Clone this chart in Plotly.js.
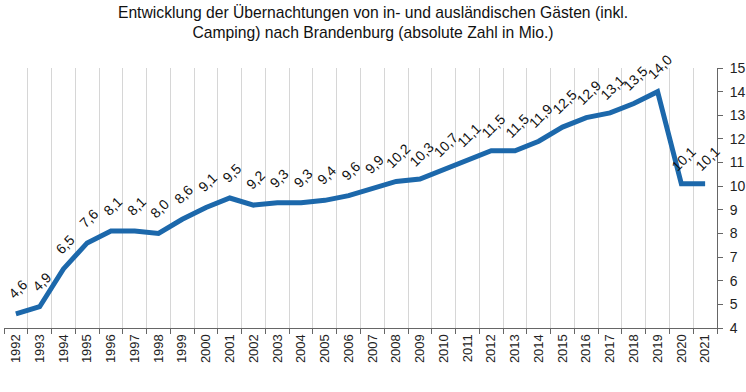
<!DOCTYPE html>
<html><head><meta charset="utf-8">
<script src="https://cdn.plot.ly/plotly-3.0.1.min.js"></script>
<style>html,body{margin:0;padding:0;background:#fff}#chart{width:746px;height:392px}</style>
</head><body><div id="chart"></div>
<script>
const years = ["1992","1993","1994","1995","1996","1997","1998","1999","2000","2001","2002","2003","2004","2005","2006","2007","2008","2009","2010","2011","2012","2013","2014","2015","2016","2017","2018","2019","2020","2021"];
const values = [4.6,4.9,6.5,7.6,8.1,8.1,8.0,8.6,9.1,9.5,9.2,9.3,9.3,9.4,9.6,9.9,10.2,10.3,10.7,11.1,11.5,11.5,11.9,12.5,12.9,13.1,13.5,14.0,10.1,10.1];
const yTicks = [4,5,6,7,8,9,10,11,12,13,14,15];
const titleText = "Entwicklung der Übernachtungen von in- und ausländischen Gästen (inkl.<br>Camping) nach Brandenburg (absolute Zahl in Mio.)";

const font = "Liberation Sans, Arial, sans-serif";
const annotations = years.map((y, i) => ({
  x: i, y: values[i], xref: "x", yref: "y",
  text: values[i].toFixed(1).replace(".", ","),
  showarrow: false, textangle: -45, yshift: 25, xshift: 2,
  font: {family: font, size: 14, color: "#111"}
}));

const trace = {
  x: years, y: values, type: "scatter", mode: "lines",
  line: {color: "#1c68ab", width: 5}, hoverinfo: "skip"
};

const layout = {
  width: 746, height: 392,
  margin: {l: 4, r: 29, t: 68, b: 64},
  paper_bgcolor: "#fff", plot_bgcolor: "#fff",
  separators: ",.",
  showlegend: false,
  title: {text: titleText, x: 0.5, xanchor: "center", yref: "container", y: 0.955, yanchor: "top",
          font: {family: font, size: 15.7, color: "#111"}},
  xaxis: {
    type: "category", tickson: "boundaries", showgrid: true, gridcolor: "#d6d6d6", gridwidth: 1,
    ticks: "outside", ticklen: 5, tickcolor: "#666", showline: true, linecolor: "#666", linewidth: 1,
    tickangle: -90, tickfont: {family: font, size: 13, color: "#222"},
    range: [-0.5, 29.5], zeroline: false, fixedrange: true
  },
  yaxis: {
    side: "right", range: [4, 15], tickvals: yTicks, ticktext: yTicks.map(String),
    showgrid: false, zeroline: false, showline: true, linecolor: "#666", linewidth: 1,
    ticks: "outside", ticklen: 5, tickcolor: "#666", ticklabelstandoff: 4,
    tickfont: {family: font, size: 14, color: "#222"}, fixedrange: true
  },
  annotations: annotations
};

Plotly.newPlot("chart", [trace], layout, {displayModeBar: false, staticPlot: true});
</script></body></html>
